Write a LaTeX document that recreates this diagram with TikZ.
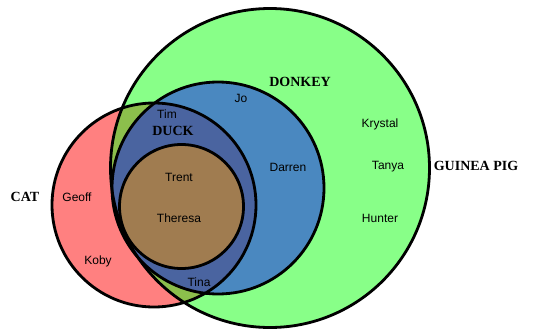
\documentclass[tikz,border=0pt]{standalone}
\usepackage{fontspec}
\setmainfont{Liberation Serif}
\setsansfont{Liberation Sans}
\definecolor{gpgreen}{HTML}{88FF88}
\definecolor{catpink}{HTML}{FF8080}
\definecolor{mixolive}{HTML}{8CBF4C}
\definecolor{dkblue}{HTML}{4A88C0}
\definecolor{dcblue}{HTML}{4A64A0}
\definecolor{inbrown}{HTML}{A07C50}
\begin{document}
\begin{tikzpicture}[x=1pt, y=-1pt,
    every node/.style={font=\sffamily\fontsize{12}{14}\selectfont},
    setname/.style={font=\rmfamily\bfseries\fontsize{14}{16}\selectfont},
    ring/.style={draw=black, line width=2.8pt}]

    \useasboundingbox (0,0) rectangle (533,332);

    % 円の中心
    \coordinate (gp) at (270,168);
    \coordinate (cat) at (154,205);
    \coordinate (dk) at (218,188);
    \coordinate (in) at (181.5,206.5);

    % 塗り (外側から)
    \fill[gpgreen] (gp) circle[radius=159.5pt];
    \fill[catpink] (cat) circle[radius=102pt];
    \fill[dkblue] (dk) circle[radius=106pt];
    \begin{scope}
      \clip (cat) circle[radius=102pt];
      \fill[mixolive] (gp) circle[radius=159.5pt];
      \fill[dcblue] (dk) circle[radius=106pt];
    \end{scope}
    \fill[inbrown] (in) circle[radius=62pt];

    % 輪郭
    \draw[ring] (gp) circle[radius=159.5pt];
    \draw[ring] (cat) circle[radius=102pt];
    \draw[ring] (dk) circle[radius=106pt];
    \draw[ring] (in) circle[radius=62pt];

    % 集合の名前
    \node[setname] (lgp) at (476,166) {GUINEA PIG};
    \node[setname] (ldk) at (300,82) {DONKEY};
    \node[setname] (ldc) at (173,131) {DUCK};
    \node[setname] (lcat) at (25,197) {CAT};

    % 要素
    \node (jo) at (241,98) {Jo};
    \node (tim) at (167,114) {Tim};
    \node (krystal) at (380,124) {Krystal};
    \node (tanya) at (388,167) {Tanya};
    \node (darren) at (288,167) {Darren};
    \node (trent) at (179,177) {Trent};
    \node (geoff) at (77,197) {Geoff};
    \node (theresa) at (179,218) {Theresa};
    \node (hunter) at (380,218) {Hunter};
    \node (koby) at (98,261) {Koby};
    \node (tina) at (199,282) {Tina};

\end{tikzpicture}
\end{document}
